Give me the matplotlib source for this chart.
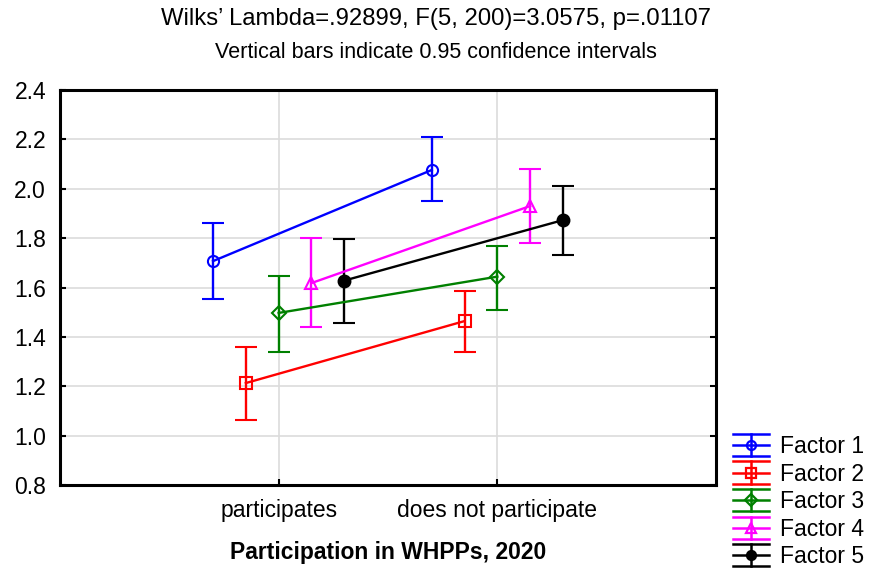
import matplotlib

matplotlib.use("Agg")
import matplotlib.pyplot as plt
import numpy as np
from matplotlib.legend_handler import HandlerBase
from matplotlib.lines import Line2D

plt.rcParams["font.family"] = ["Liberation Sans", "DejaVu Sans"]

# Data: group means and 0.95 CI bounds per factor
groups = ["participates", "does not participate"]
factors = ["Factor 1", "Factor 2", "Factor 3", "Factor 4", "Factor 5"]
mean_part = [1.707, 1.213, 1.497, 1.618, 1.628]
lo_part = [1.553, 1.063, 1.339, 1.440, 1.458]
hi_part = [1.861, 1.359, 1.647, 1.800, 1.798]
mean_not = [2.076, 1.464, 1.644, 1.930, 1.873]
lo_not = [1.950, 1.339, 1.509, 1.782, 1.732]
hi_not = [2.210, 1.586, 1.769, 2.079, 2.012]

colors = ["#0000ff", "#ff0000", "#008000", "#ff00ff", "#000000"]
markers = ["o", "s", "D", "^", "o"]
filled = [False, False, False, False, True]
msizes = [8, 8, 7, 8, 8.5]
offsets = [-0.3, -0.15, 0.0, 0.15, 0.3]


class ErrorbarHandler(HandlerBase):
    """Legend glyph: centre line, two full-width caps, vertical bar, marker."""

    def create_artists(self, legend, orig, xdescent, ydescent, width, height,
                       fontsize, trans):
        c = orig.get_color()
        yc = height / 2 - ydescent
        e = 8.0
        x0, x1 = -xdescent, width - xdescent
        xm = (x0 + x1) / 2
        kw = dict(color=c, lw=1.8, transform=trans)
        arts = [
            Line2D([x0, x1], [yc, yc], **kw),
            Line2D([x0, x1], [yc + e, yc + e], **kw),
            Line2D([x0, x1], [yc - e, yc - e], **kw),
            Line2D([xm, xm], [yc - e, yc + e], **kw),
            Line2D([xm], [yc], marker=orig.get_marker(), markersize=6.5,
                   markerfacecolor=orig.get_markerfacecolor(),
                   markeredgecolor=c, markeredgewidth=1.6, transform=trans),
        ]
        return arts


fig = plt.figure(figsize=(8.72, 5.68), dpi=100)
ax = fig.add_axes([60 / 872, 1 - 485 / 568, 656 / 872, 395 / 568])

x = np.arange(1, len(groups) + 1)
proxies = []
for i, name in enumerate(factors):
    means = np.array([mean_part[i], mean_not[i]])
    lo = np.array([lo_part[i], lo_not[i]])
    hi = np.array([hi_part[i], hi_not[i]])
    mfc = colors[i] if filled[i] else "none"
    ax.errorbar(x + offsets[i], means, yerr=[means - lo, hi - means],
                color=colors[i], lw=1.7, elinewidth=1.7, capsize=8,
                capthick=1.7, marker=markers[i], markersize=msizes[i],
                markerfacecolor=mfc, markeredgecolor=colors[i],
                markeredgewidth=1.5, zorder=3)
    proxies.append(Line2D([], [], color=colors[i], marker=markers[i],
                          markerfacecolor=mfc))

ax.set_xlim(0, 3)
ax.set_ylim(0.8, 2.4)
ax.set_xticks(x)
ax.set_xticklabels(groups)
ax.set_yticks(np.arange(0.8, 2.41, 0.2))
ax.yaxis.set_major_formatter(matplotlib.ticker.FormatStrFormatter("%.1f"))
ax.grid(True, color="#dcdcdc", lw=1.2, zorder=0)
ax.set_axisbelow(True)
ax.tick_params(direction="in", length=4, width=1.5, labelsize=16.5,
               right=True, pad=10)
for s in ax.spines.values():
    s.set_linewidth(2.2)
    s.set_color("black")

ax.set_xlabel("Participation in WHPPs, 2020", fontsize=16.5,
              fontweight="bold", labelpad=14)

fig.text(0.5, 1 - 19 / 568, "Wilks\u2019 Lambda=.92899, F(5, 200)=3.0575, p=.01107",
         ha="center", va="center", fontsize=17.2)
fig.text(0.5, 1 - 52 / 568, "Vertical bars indicate 0.95 confidence intervals",
         ha="center", va="center", fontsize=15.5)

fig.legend(proxies, factors, loc="upper left",
           bbox_to_anchor=(733 / 872, 1 - 435 / 568),
           handler_map={Line2D: ErrorbarHandler()}, frameon=False,
           fontsize=16.5, borderpad=0, borderaxespad=0, handlelength=1.55,
           handletextpad=0.5, labelspacing=0.2)

fig.savefig("out.png", dpi=100)
